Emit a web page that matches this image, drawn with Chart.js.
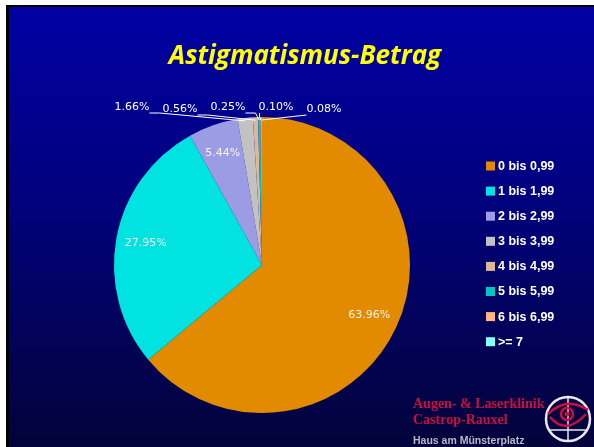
<!DOCTYPE html>
<html>
<head>
<meta charset="utf-8">
<script src="https://cdn.jsdelivr.net/npm/chart.js@4.4.1/dist/chart.umd.min.js"></script>
<style>
html,body{margin:0;padding:0;background:#fff;}
#wrap{position:relative;width:594px;height:447px;}
</style>
</head>
<body>
<div id="wrap"><canvas id="c" width="594" height="447"></canvas></div>
<script>
const titleText = 'Astigmatismus-Betrag';
const categories = ['0 bis 0,99','1 bis 1,99','2 bis 2,99','3 bis 3,99','4 bis 4,99','5 bis 5,99','6 bis 6,99','>= 7'];
const shares = [63.96, 27.95, 5.44, 1.66, 0.56, 0.25, 0.10, 0.08];
const sliceColors = ['#E28A00','#00E3E0','#9C9CE4','#C2C2C2','#DDB69C','#00C6C6','#FFB482','#86FFFF'];
const logoLines = ['Augen- & Laserklinik','Castrop-Rauxel','Haus am Münsterplatz'];

const bgPlugin = {
  id:'bg',
  beforeDraw(chart){
    const c = chart.ctx, W = chart.width, H = chart.height;
    c.save();
    c.fillStyle = '#ffffff'; c.fillRect(0,0,W,H);
    c.fillStyle = '#000000'; c.fillRect(6,5,W-6,H-5);
    const g = c.createLinearGradient(0,7,0,H);
    g.addColorStop(0,'#0101A4');
    g.addColorStop(0.45,'#01017C');
    g.addColorStop(1,'#03033A');
    c.fillStyle = g; c.fillRect(9,7,W-9,H-7);
    c.restore();
  }
};

const titlePlugin = {
  id:'customTitle',
  afterDraw(chart){
    const c = chart.ctx;
    c.save();
    c.font = 'italic bold 26px "Open Sans"';
    c.fillStyle = '#FFFF00';
    c.textAlign = 'center';
    c.textBaseline = 'middle';
    c.fillText(titleText, 305, 57);
    c.restore();
  }
};

const fmt = v => v.toFixed(2) + '%';

const labelPlugin = {
  id:'labels',
  afterDatasetsDraw(chart){
    const c = chart.ctx;
    const meta = chart.getDatasetMeta(0);
    c.save();
    c.font = '11px "DejaVu Sans"';
    c.textBaseline = 'middle';
    c.textAlign = 'center';
    meta.data.forEach((arc, i) => {
      const p = arc.getProps(['x','y','startAngle','endAngle','outerRadius']);
      const mid = (p.startAngle + p.endAngle)/2;
      const v = shares[i];
      const txt = fmt(v);
      if (v >= 2) {
        const rr = p.outerRadius * 0.8;
        c.fillStyle = '#FAF4EA';
        c.fillText(txt, p.x + Math.cos(mid)*rr, p.y + Math.sin(mid)*rr);
      } else {
        const k = i - 5;
        const lx = p.x - 34 + k*48;
        const ly = p.y - p.outerRadius - 10 + ((i===4||i===7)?2:0);
        const w = c.measureText(txt).width;
        c.fillStyle = '#ffffff';
        c.fillText(txt, lx, ly);
        const ax = p.x + Math.cos(mid)*(p.outerRadius-3);
        const ay = p.y + Math.sin(mid)*(p.outerRadius-3);
        const bottom = ly + 6;
        c.strokeStyle = '#ffffff'; c.lineWidth = 1;
        c.beginPath();
        const left = lx - w/2, right = lx + w/2;
        if (ax > right) {
          c.moveTo(right, bottom); c.lineTo(right+10, bottom); c.lineTo(ax, ay);
        } else if (ax < left) {
          c.moveTo(left, bottom); c.lineTo(ax, ay);
        } else {
          c.moveTo(left+1, bottom); c.lineTo(left+1, bottom+4); c.lineTo(ax, ay);
        }
        c.stroke();
      }
    });
    c.restore();
  }
};

const legendPlugin = {
  id:'customLegend',
  afterDraw(chart){
    const c = chart.ctx;
    c.save();
    c.font = 'bold 12.5px "Liberation Sans"';
    c.textBaseline = 'middle';
    c.textAlign = 'left';
    categories.forEach((lab, i) => {
      const y = 166 + i*25.1;
      c.fillStyle = sliceColors[i];
      c.fillRect(486, y-4.5, 9, 9);
      c.fillStyle = '#ffffff';
      c.fillText(lab, 498, y+0.5);
    });
    c.restore();
  }
};

const logoPlugin = {
  id:'logo',
  afterDraw(chart){
    const c = chart.ctx;
    c.save();
    c.strokeStyle = '#E8E8F0'; c.lineWidth = 2.5;
    c.beginPath(); c.arc(568, 419, 22, 0, Math.PI*2); c.stroke();
    c.lineWidth = 1.5;
    c.beginPath(); c.moveTo(568,397); c.lineTo(568,441); c.moveTo(550,430); c.lineTo(586,430); c.stroke();
    c.strokeStyle = '#C8103C'; c.lineWidth = 2.5;
    c.beginPath();
    c.moveTo(548,414); c.quadraticCurveTo(566,396,588,410);
    c.moveTo(550,417); c.quadraticCurveTo(566,436,586,414);
    c.stroke();
    c.beginPath(); c.arc(567,414,6,0,Math.PI*2); c.stroke();
    c.fillStyle='#C8103C'; c.beginPath(); c.arc(567,414,2.5,0,Math.PI*2); c.fill();
    c.textAlign='left'; c.textBaseline='alphabetic';
    c.fillStyle = '#C8103C';
    c.font = 'bold 14px "Liberation Serif"';
    c.fillText(logoLines[0], 413, 408);
    c.fillText(logoLines[1], 413, 424);
    c.fillStyle = '#B8B8C8';
    c.font = 'bold 10.5px "Liberation Sans"';
    c.fillText(logoLines[2], 413, 444);
    c.restore();
  }
};

new Chart(document.getElementById('c'), {
  type:'pie',
  data:{
    labels: categories,
    datasets:[{
      data: shares,
      backgroundColor: sliceColors,
      borderWidth: 0
    }]
  },
  options:{
    responsive:false,
    animation:false,
    layout:{padding:{left:114,right:184,top:117,bottom:34}},
    plugins:{
      legend:{display:false},
      tooltip:{enabled:false},
      title:{display:false}
    }
  },
  plugins:[bgPlugin, labelPlugin, legendPlugin, logoPlugin, titlePlugin]
});
</script>
</body>
</html>
